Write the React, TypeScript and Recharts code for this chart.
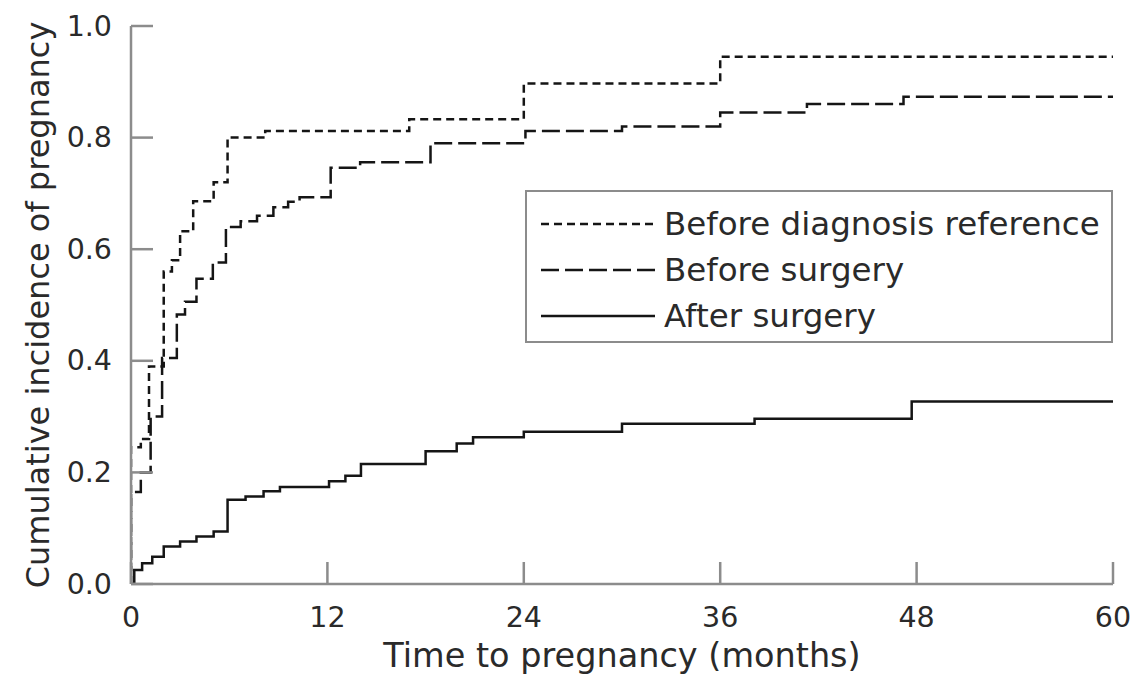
import { LineChart, Line, XAxis, YAxis, Legend } from "recharts";

// Kaplan-Meier style cumulative incidence
const monthTicks = [0, 12, 24, 36, 48, 60];
const incidenceTicks = [0, 0.2, 0.4, 0.6, 0.8, 1.0];

const seriesNames = ["Before diagnosis reference", "Before surgery", "After surgery"];

const beforeDiagnosisT = [0, 0, 0.6, 1.1, 2.0, 2.5, 3.0, 3.8, 5.05, 5.9, 8.2, 17, 24, 36, 60];
const beforeDiagnosisP = [0, 0.245, 0.26, 0.39, 0.56, 0.58, 0.632, 0.686, 0.72, 0.8, 0.812, 0.833, 0.897, 0.945, 0.945];

const beforeSurgeryT = [0, 0, 0.6, 1.2, 1.9, 2.8, 3.3, 4.0, 5.0, 5.8, 6.7, 7.7, 8.7, 9.6, 10.3, 12.2, 14.0, 18.3, 24.1, 30, 36, 41.3, 47.2, 60];
const beforeSurgeryP = [0, 0.165, 0.2, 0.3, 0.405, 0.483, 0.506, 0.547, 0.576, 0.64, 0.65, 0.66, 0.675, 0.685, 0.693, 0.746, 0.756, 0.79, 0.812, 0.82, 0.845, 0.86, 0.873, 0.873];

const afterSurgeryT = [0, 0.2, 0.68, 1.3, 2.0, 3.0, 4.0, 5.05, 5.9, 7.0, 8.1, 9.1, 12.1, 13.1, 14.05, 18, 19.9, 20.9, 24, 30, 38.1, 47.7, 60];
const afterSurgeryP = [0, 0.025, 0.037, 0.049, 0.067, 0.076, 0.085, 0.094, 0.151, 0.157, 0.166, 0.174, 0.184, 0.194, 0.215, 0.238, 0.252, 0.263, 0.273, 0.287, 0.296, 0.327, 0.327];

const toRows = (t: number[], p: number[]) => t.map((m, i) => ({ t: m, p: p[i] }));

const series = [
  { name: seriesNames[0], data: toRows(beforeDiagnosisT, beforeDiagnosisP), dash: "8 5" },
  { name: seriesNames[1], data: toRows(beforeSurgeryT, beforeSurgeryP), dash: "18 6" },
  { name: seriesNames[2], data: toRows(afterSurgeryT, afterSurgeryP), dash: undefined },
];

const FONT = "'DejaVu Sans', sans-serif";
const TEXT = "#2a2a2a";
const AXIS = "#8c8c8c";
const INK = "#151515";

const XTick = (props: any) => {
  const { x, y, payload } = props;
  return (
    <g>
      <line x1={x} x2={x} y1={y} y2={y - 22} stroke={AXIS} strokeWidth={2.5} />
      <text x={x} y={y + 33} textAnchor="middle" dominantBaseline="central" fontSize={28.5} fontFamily={FONT} fill={TEXT}>
        {payload.value}
      </text>
    </g>
  );
};

const YTick = (props: any) => {
  const { x, y, payload } = props;
  return (
    <g>
      <line x1={x} x2={x + 22} y1={y} y2={y} stroke={AXIS} strokeWidth={2.5} />
      <text x={x - 19} y={y} textAnchor="end" dominantBaseline="central" fontSize={28.5} fontFamily={FONT} fill={TEXT}>
        {payload.value.toFixed(1)}
      </text>
    </g>
  );
};

const XTitle = (props: any) => {
  const { viewBox } = props;
  return (
    <text x={viewBox.x + viewBox.width / 2} y={viewBox.y + 71} textAnchor="middle" dominantBaseline="central" fontSize={33.5} fontFamily={FONT} fill={TEXT}>
      Time to pregnancy (months)
    </text>
  );
};

const YTitle = (props: any) => {
  const { viewBox } = props;
  const cx = viewBox.x + 38;
  const cy = viewBox.y + viewBox.height / 2;
  return (
    <text x={cx} y={cy} transform={`rotate(-90 ${cx} ${cy})`} textAnchor="middle" dominantBaseline="central" fontSize={32} fontFamily={FONT} fill={TEXT}>
      Cumulative incidence of pregnancy
    </text>
  );
};

const LegendBox = () => (
  <div
    style={{
      border: `2px solid ${AXIS}`,
      boxSizing: "border-box",
      width: 588,
      height: 153,
      paddingTop: 9,
      fontFamily: FONT,
      fontSize: 32.5,
      color: TEXT,
      background: "#fff",
    }}
  >
    {series.map((s) => (
      <div key={s.name} style={{ display: "flex", alignItems: "center", height: 46 }}>
        <svg width={123} height={10} style={{ marginLeft: 14 }}>
          <line x1={0} x2={114} y1={5} y2={5} stroke={INK} strokeWidth={2.5} strokeDasharray={s.dash} />
        </svg>
        <span style={{ lineHeight: "46px", whiteSpace: "nowrap" }}>{s.name}</span>
      </div>
    ))}
  </div>
);

export default function App() {
  return (
    <div style={{ position: "absolute", left: 0, top: 0, background: "#fff" }}>
      <LineChart width={1134} height={682} margin={{ top: 26, right: 21, bottom: 0, left: 0 }}>
        <XAxis
          type="number"
          dataKey="t"
          domain={[0, 60]}
          ticks={monthTicks}
          height={98}
          tickLine={false}
          tickSize={0}
          tickMargin={0}
          axisLine={{ stroke: AXIS, strokeWidth: 2.5 }}
          tick={<XTick />}
          label={<XTitle />}
          allowDataOverflow
        />
        <YAxis
          type="number"
          dataKey="p"
          domain={[0, 1]}
          ticks={incidenceTicks}
          width={131}
          tickLine={false}
          tickSize={0}
          tickMargin={0}
          axisLine={{ stroke: AXIS, strokeWidth: 2.5 }}
          tick={<YTick />}
          label={<YTitle />}
          allowDataOverflow
        />
        <Legend
          layout="vertical"
          align="center"
          verticalAlign="middle"
          content={<LegendBox />}
          wrapperStyle={{ left: 525, top: 190, width: 588, height: 153 }}
        />
        {series.map((s) => (
          <Line
            key={s.name}
            data={s.data}
            dataKey="p"
            name={s.name}
            type="stepAfter"
            stroke={INK}
            strokeWidth={2.5}
            strokeDasharray={s.dash}
            dot={false}
            activeDot={false}
            isAnimationActive={false}
          />
        ))}
      </LineChart>
    </div>
  );
}
